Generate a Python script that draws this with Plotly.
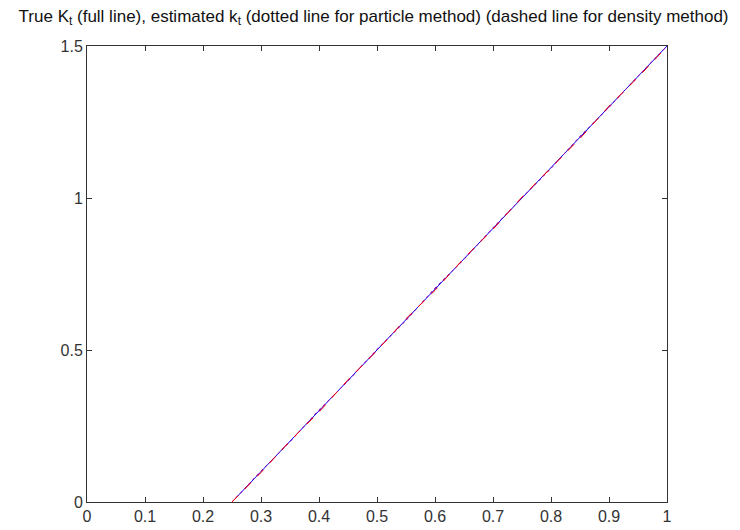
import plotly.graph_objects as go

t_true = [0.25, 1.0]
k_true = [0.0, 1.5]

t_est = [0.25, 0.30, 0.35, 0.40, 0.45, 0.50, 0.55, 0.60, 0.65, 0.70, 0.75, 0.80, 0.85, 0.90, 0.95, 1.00]
k_particle = [0.0, 0.102, 0.198, 0.303, 0.398, 0.502, 0.597, 0.704, 0.798, 0.902, 1.001, 1.097, 1.203, 1.298, 1.401, 1.500]
k_density = [0.0, 0.097, 0.201, 0.296, 0.402, 0.498, 0.603, 0.696, 0.802, 0.897, 1.003, 1.098, 1.196, 1.302, 1.397, 1.498]

x_ticks = [0, 0.1, 0.2, 0.3, 0.4, 0.5, 0.6, 0.7, 0.8, 0.9, 1]
y_ticks = [0, 0.5, 1, 1.5]

fig = go.Figure()
fig.add_trace(go.Scatter(x=t_true, y=k_true, mode="lines",
                         line=dict(color="blue", width=1), name="true"))
fig.add_trace(go.Scatter(x=t_est, y=k_particle, mode="lines",
                         line=dict(color="#a000a0", width=1, dash="dot"), name="particle"))
fig.add_trace(go.Scatter(x=t_est, y=k_density, mode="lines",
                         line=dict(color="red", width=1, dash="dash"), name="density"))

axis_common = dict(showgrid=False, zeroline=False, showline=True, linecolor="#333333",
                   linewidth=1, mirror="ticks", ticks="inside", ticklen=5,
                   tickcolor="#333333", tickfont=dict(family="Liberation Sans", size=16, color="#333333"))

fig.update_layout(
    width=740, height=530,
    margin=dict(l=79, r=81, t=38, b=36),
    paper_bgcolor="white", plot_bgcolor="white",
    showlegend=False,
    title=dict(text="True K<sub>t</sub> (full line), estimated k<sub>t</sub> (dotted line for particle method) (dashed line for density method)",
               x=0.494, xanchor="center", yref="container", y=0.985, yanchor="middle",
               font=dict(family="Liberation Sans", size=17, color="#111111")),
    xaxis=dict(range=[0, 1], tickvals=x_ticks, ticktext=[str(v) for v in x_ticks], **axis_common),
    yaxis=dict(range=[0, 1.5], tickvals=y_ticks, ticktext=[str(v) for v in y_ticks], **axis_common),
)

fig.write_html("out.html")
